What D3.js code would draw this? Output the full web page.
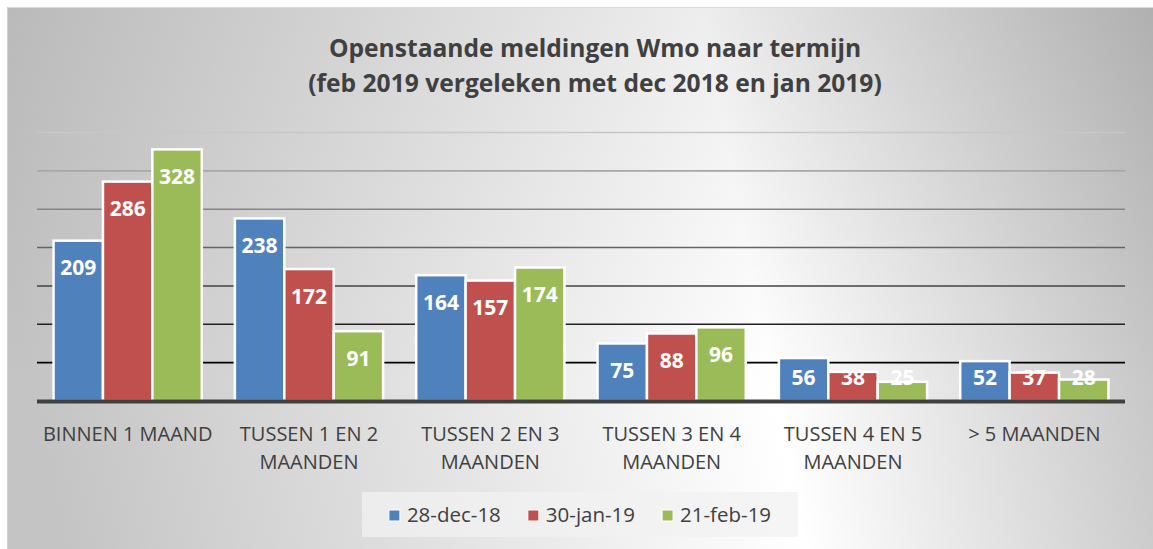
<!DOCTYPE html>
<html>
<head>
<meta charset="utf-8">
<script src="https://cdn.jsdelivr.net/npm/d3@7"></script>
<style>
  body { margin: 0; background: #ffffff; }
  text { font-family: "Open Sans", sans-serif; }
</style>
</head>
<body>
<svg id="chart" width="1153" height="549"></svg>
<script>
// data
let categories = ["BINNEN 1 MAAND", "TUSSEN 1 EN 2\nMAANDEN", "TUSSEN 2 EN 3\nMAANDEN",
                  "TUSSEN 3 EN 4\nMAANDEN", "TUSSEN 4 EN 5\nMAANDEN", "> 5 MAANDEN"];
let seriesNames = ["28-dec-18", "30-jan-19", "21-feb-19"];
let dec18 = [209, 238, 164, 75, 56, 52];
let jan19 = [286, 172, 157, 88, 38, 37];
let feb19 = [328, 91, 174, 96, 25, 28];
let gridTicks = [50, 100, 150, 200, 250, 300, 350];
let titleLines = ["Openstaande meldingen Wmo naar termijn",
                  "(feb 2019 vergeleken met dec 2018 en jan 2019)"];

let seriesValues = [dec18, jan19, feb19];
let colors = ["#4f81bd", "#c0504d", "#9bbb59"];

let svg = d3.select('#chart');
let defs = svg.append('defs');

// background gradient (grey - white - grey)
let bg = defs.append('linearGradient')
    .attr('id', 'bg_grad')
    .attr('gradientUnits', 'userSpaceOnUse')
    .attr('x1', 0).attr('y1', 220)
    .attr('x2', 1153).attr('y2', 0);
bg.append('stop').attr('offset', 0).attr('stop-color', '#c4c4c4');
bg.append('stop').attr('offset', 0.62).attr('stop-color', '#ffffff');
bg.append('stop').attr('offset', 1).attr('stop-color', '#bdbdbd');

let topShade = defs.append('linearGradient')
    .attr('id', 'top_shade')
    .attr('x1', 0).attr('y1', 0).attr('x2', 0).attr('y2', 1);
topShade.append('stop').attr('offset', 0).attr('stop-color', '#000').attr('stop-opacity', 0.07);
topShade.append('stop').attr('offset', 0.7).attr('stop-color', '#000').attr('stop-opacity', 0);

svg.append('rect')
    .attr('x', 7).attr('y', 7).attr('width', 1146).attr('height', 542)
    .attr('fill', 'url(#bg_grad)');
svg.append('rect')
    .attr('x', 7).attr('y', 7).attr('width', 1146).attr('height', 542)
    .attr('fill', 'url(#top_shade)');
svg.append('line')
    .attr('x1', 7).attr('x2', 1153).attr('y1', 7.5).attr('y2', 7.5)
    .attr('stroke', '#d9d9d9').attr('stroke-width', 1);
svg.append('line')
    .attr('x1', 7.5).attr('x2', 7.5).attr('y1', 7).attr('y2', 549)
    .attr('stroke', '#d0d0d0').attr('stroke-width', 1);

// scales
let x0 = d3.scaleBand()
    .domain(categories)
    .range([37, 1125])
    .padding(0);

let x1 = d3.scaleBand()
    .domain(d3.range(seriesNames.length))
    .range([0, x0.bandwidth()])
    .paddingInner(0)
    .paddingOuter(0.335);

let y = d3.scaleLinear()
    .domain([0, 350])
    .range([401, 132.5]);

let gridColor = d3.scaleLinear()
    .domain([50, 350])
    .range(['#000000', '#c8c8c8']);

// gridlines
svg.append('g')
    .selectAll('line')
    .data(gridTicks)
    .join('line')
    .attr('x1', 37)
    .attr('x2', 1125)
    .attr('y1', d => y(d))
    .attr('y2', d => y(d))
    .attr('stroke', d => gridColor(d))
    .attr('stroke-width', 1.6);

// bars
let groups = svg.append('g')
    .selectAll('g')
    .data(categories)
    .join('g')
    .attr('transform', d => 'translate(' + x0(d) + ',0)');

let cells = groups.selectAll('g')
    .data((d, i) => seriesValues.map((s, k) => ({ k: k, v: s[i] })))
    .join('g');

cells.append('rect')
    .attr('x', d => x1(d.k))
    .attr('y', d => y(d.v))
    .attr('width', x1.bandwidth())
    .attr('height', d => y(0) - y(d.v))
    .attr('fill', d => colors[d.k])
    .attr('stroke', '#ffffff')
    .attr('stroke-width', 2.5);

// baseline
svg.append('line')
    .attr('x1', 37).attr('x2', 1125)
    .attr('y1', y(0) + 0.5).attr('y2', y(0) + 0.5)
    .attr('stroke', '#404040')
    .attr('stroke-width', 4);

// data labels (inside end)
cells.append('text')
    .attr('x', d => x1(d.k) + x1.bandwidth() / 2)
    .attr('y', d => Math.min(y(d.v) + 27, y(0) - 24))
    .attr('dy', '0.36em')
    .attr('text-anchor', 'middle')
    .attr('font-size', '21px')
    .attr('font-weight', 'bold')
    .attr('fill', '#ffffff')
    .text(d => d.v);

// category labels
let catLabels = svg.append('g')
    .selectAll('text')
    .data(categories)
    .join('text')
    .attr('x', d => x0(d) + x0.bandwidth() / 2)
    .attr('y', 441)
    .attr('text-anchor', 'middle')
    .attr('font-size', '20px')
    .attr('fill', '#404040');

catLabels.selectAll('tspan')
    .data(d => d.split('\n'))
    .join('tspan')
    .attr('x', function () { return d3.select(this.parentNode).attr('x'); })
    .attr('dy', (d, i) => i === 0 ? 0 : 28)
    .text(d => d);

// title
svg.append('g')
    .selectAll('text')
    .data(titleLines)
    .join('text')
    .attr('x', 595)
    .attr('y', (d, i) => 57 + i * 35)
    .attr('text-anchor', 'middle')
    .attr('font-size', '24.6px')
    .attr('font-weight', 'bold')
    .attr('fill', '#404040')
    .text(d => d);

// legend
let legend = svg.append('g');
legend.append('rect')
    .attr('x', 362).attr('y', 492)
    .attr('width', 436).attr('height', 45)
    .attr('fill', '#f2f2f2')
    .attr('fill-opacity', 0.75);

let items = legend.selectAll('g')
    .data(seriesNames)
    .join('g');

items.append('rect')
    .attr('width', 11).attr('height', 11)
    .attr('y', 510)
    .attr('fill', (d, i) => colors[i])
    .attr('stroke', '#ffffff')
    .attr('stroke-width', 1);

items.append('text')
    .attr('y', 522)
    .attr('font-size', '20.5px')
    .attr('fill', '#404040')
    .text(d => d);

// lay the legend items out from measured text widths, centred on the box
let widths = [];
items.select('text').each(function () { widths.push(this.getComputedTextLength()); });
let itemW = widths.map(w => 18 + w);
let gap = 27;
let total = d3.sum(itemW) + gap * (itemW.length - 1);
let cursor = 580 - total / 2;
items.each(function (d, i) {
    d3.select(this).select('rect').attr('x', cursor);
    d3.select(this).select('text').attr('x', cursor + 18);
    cursor += itemW[i] + gap;
});
</script>
</body>
</html>
